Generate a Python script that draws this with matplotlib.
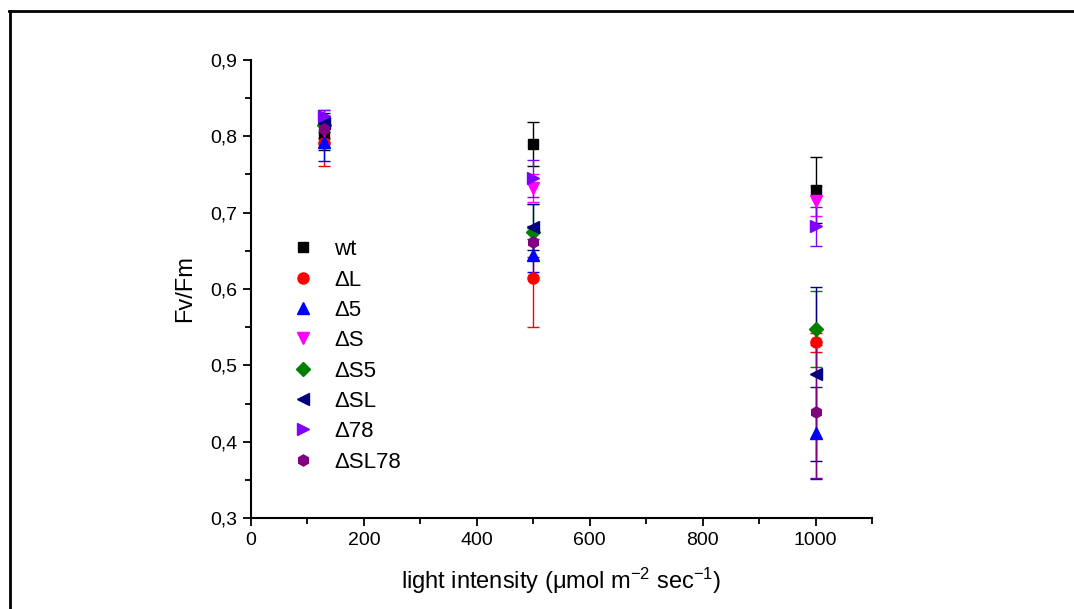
import matplotlib
matplotlib.use("Agg")
import matplotlib.pyplot as plt
from matplotlib.lines import Line2D
from matplotlib.ticker import MultipleLocator, FuncFormatter

plt.rcParams['font.family'] = ['Liberation Sans', 'DejaVu Sans']
plt.rcParams['mathtext.default'] = 'regular'

light = [130, 500, 1000]
labels = ["wt", "ΔL", "Δ5", "ΔS", "ΔS5", "ΔSL", "Δ78", "ΔSL78"]
fvfm = [
    [0.804, 0.790, 0.730],
    [0.791, 0.615, 0.530],
    [0.793, 0.644, 0.411],
    [0.808, 0.732, 0.715],
    [0.815, 0.675, 0.548],
    [0.818, 0.681, 0.489],
    [0.826, 0.745, 0.682],
    [0.810, 0.662, 0.439],
]
errors = [
    [0.022, 0.029, 0.043],
    [0.030, 0.065, 0.013],
    [0.025, 0.022, 0.060],
    [0.015, 0.018, 0.020],
    [0.019, 0.037, 0.050],
    [0.012, 0.030, 0.114],
    [0.008, 0.024, 0.026],
    [0.012, 0.020, 0.087],
]
colors = ["black", "#FF0000", "#0000FF", "#FF00FF", "#008000", "#000080", "#8000FF", "#800080"]
markers = ["s", "o", "^", "v", "D", "<", ">", "h"]
sizes = [7, 8, 8, 8, 7, 8, 8, 8]

fig = plt.figure(figsize=(10.74, 6.09), dpi=100)
ax = fig.add_axes([0.2337, 0.1494, 0.812 - 0.2337, 0.9015 - 0.1494])

handles = []
for y, e, c, m, s, lab in zip(fvfm, errors, colors, markers, sizes, labels):
    ax.errorbar(light, y, yerr=e, fmt=m, color=c, ecolor=c, markersize=s,
                elinewidth=1, capsize=4, capthick=1, linestyle="none")
    # legend shows the marker only
    handles.append(Line2D([], [], marker=m, color=c, markersize=s, linestyle="none", label=lab))

ax.set_xlim(0, 1100)
ax.set_ylim(0.3, 0.9)
ax.xaxis.set_major_locator(MultipleLocator(200))
ax.xaxis.set_minor_locator(MultipleLocator(100))
ax.yaxis.set_major_locator(MultipleLocator(0.1))
ax.yaxis.set_minor_locator(MultipleLocator(0.05))
ax.yaxis.set_major_formatter(FuncFormatter(lambda v, p: ("%.1f" % v).replace(".", ",")))

ax.spines["top"].set_visible(False)
ax.spines["right"].set_visible(False)
for sp in ["left", "bottom"]:
    ax.spines[sp].set_linewidth(1.5)
ax.tick_params(which="major", direction="out", length=6, width=1.3, labelsize=14, pad=4)
ax.tick_params(which="minor", direction="out", length=4, width=1.3)

ax.set_xlabel("light intensity (μmol m$^{-2}$ sec$^{-1}$)", fontsize=17, labelpad=12)
ax.set_ylabel("Fv/Fm", fontsize=17, labelpad=10)

ax.legend(handles=handles, loc="upper left", bbox_to_anchor=(0.052, 0.628), frameon=False,
          fontsize=16, handletextpad=0.9, labelspacing=0.42,
          handlelength=1.0, borderaxespad=0)

# page frame (top and left edges)
fig.add_artist(Line2D([9 / 1074, 1.0], [1 - 11 / 609, 1 - 11 / 609], color="black", linewidth=2, transform=fig.transFigure))
fig.add_artist(Line2D([10 / 1074, 10 / 1074], [0, 1 - 11 / 609], color="black", linewidth=2, transform=fig.transFigure))

fig.savefig("out.png", dpi=100)
